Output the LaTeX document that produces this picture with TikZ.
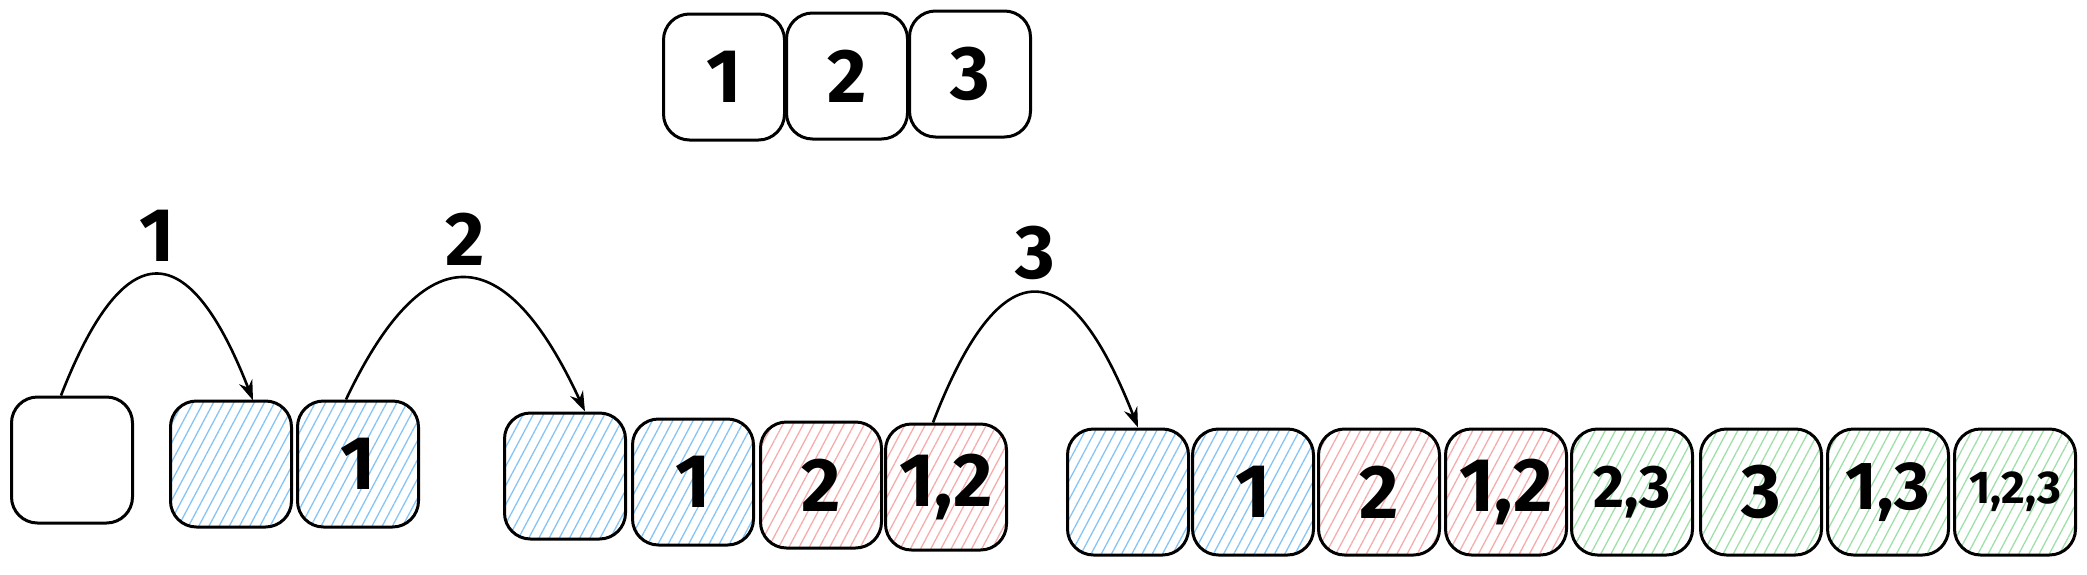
\documentclass[tikz,border=0pt]{standalone}
\usepackage{fontspec}
\setmainfont{Fira Sans}
\usetikzlibrary{arrows.meta,patterns.meta}

\definecolor{hatchblue}{HTML}{86C4F5}
\definecolor{hatchred}{HTML}{F6ACAC}
\definecolor{hatchgreen}{HTML}{9EE0A8}

\begin{document}
\begin{tikzpicture}[
  x=1pt, y=-1pt,
  plainblock/.style={
    rectangle,
    rounded corners=26pt,
    line width=3pt,
    draw=black,
    inner sep=0pt,
    minimum width=121pt,
    minimum height=126pt,
    font=\fontsize{76}{80}\selectfont\bfseries
  },
  blueblock/.style={
    plainblock,
    pattern={Lines[angle=62,distance=9pt,line width=1.3pt]},
    pattern color=hatchblue
  },
  redblock/.style={
    plainblock,
    pattern={Lines[angle=62,distance=9pt,line width=1.3pt]},
    pattern color=hatchred
  },
  greenblock/.style={
    plainblock,
    pattern={Lines[angle=62,distance=9pt,line width=1.3pt]},
    pattern color=hatchgreen
  },
  hop/.style={line width=2.6pt, -{Stealth[length=20pt,width=14pt]}},
  hoplabel/.style={inner sep=0pt, above=12pt, font=\fontsize{76}{80}\selectfont\bfseries}]
  \useasboundingbox (0,0) rectangle (2087,574);

  % the set
  \node[plainblock] (top1) at (724,77) {1};
  \node[plainblock] (top2) at (847,76) {2};
  \node[plainblock] (top3) at (970,74) {3};

  % level 1
  \node[plainblock] (lv0e) at (72,460) {};
  \node[blueblock] (lv1e) at (231,464) {};
  \node[blueblock] (lv1a) at (358,464) {1};
  % level 2
  \node[blueblock] (lv2e) at (565,476) {};
  \node[blueblock] (lv2a) at (693,482) {1};
  \node[redblock] (lv2b) at (821,485) {2};
  \node[redblock] (lv2c) at (946,487) {1,2};
  % level 3
  \node[blueblock] (lv3e) at (1128,492) {};
  \node[blueblock] (lv3a) at (1253,492) {1};
  \node[redblock] (lv3b) at (1379,492) {2};
  \node[redblock] (lv3c) at (1506,492) {1,2};
  \node[greenblock,font=\fontsize{60}{64}\selectfont\bfseries] (lv3d) at (1632,492) {2,3};
  \node[greenblock] (lv3f) at (1761,492) {3};
  \node[greenblock,font=\fontsize{68}{72}\selectfont\bfseries] (lv3g) at (1888,492) {1,3};
  \node[greenblock,font=\fontsize{46}{50}\selectfont\bfseries] (lv3h) at (2015,492) {1,2,3};

  \draw[hop] ([xshift=-11pt]lv0e.north) .. controls +(64,-164) and +(-64,-164) .. ([xshift=22pt]lv1e.north)
    node[midway,hoplabel] (hop1) {1};
  \draw[hop] ([xshift=-12pt]lv1a.north) .. controls +(79,-166) and +(-80,-173) .. ([xshift=20pt]lv2e.north)
    node[midway,hoplabel] (hop2) {2};
  \draw[hop] ([xshift=-13pt]lv2c.north) .. controls +(68,-176) and +(-69,-176) .. ([xshift=10pt]lv3e.north)
    node[midway,hoplabel] (hop3) {3};

\end{tikzpicture}
\end{document}
